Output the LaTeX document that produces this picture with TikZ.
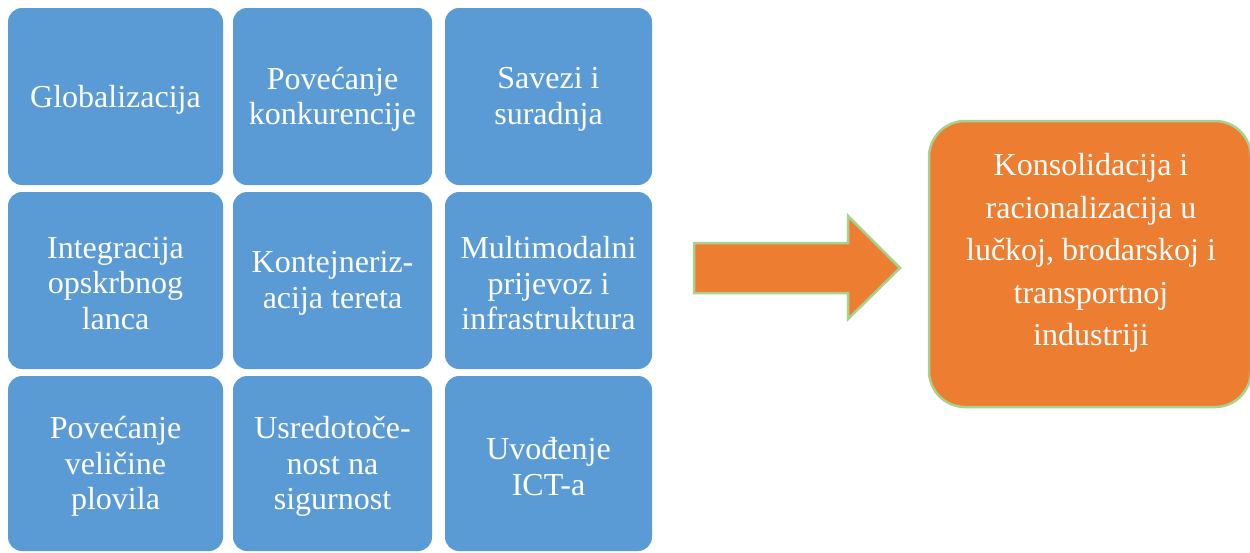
\documentclass[tikz,border=0pt]{standalone}
\usepackage{fontspec}
\setmainfont{Liberation Serif}
\definecolor{boxblue}{HTML}{5B9BD5}
\definecolor{boxorange}{HTML}{ED7D31}
\definecolor{boxgreen}{HTML}{A9D18E}
\begin{document}
\begin{tikzpicture}[x=1pt,y=-1pt,
  bluebox/.style={fill=boxblue, draw=none, rounded corners=14pt, inner sep=0pt},
  bluetext/.style={text=white, align=center, inner sep=0pt, font=\fontsize{32}{35.5}\selectfont},
  orangebox/.style={fill=boxorange, draw=boxgreen, line width=2.5pt, rounded corners=36pt,
    inner sep=0pt},
  bigtext/.style={text=white, align=center, font=\fontsize{32}{42.5}\selectfont}]
\useasboundingbox (0,0) rectangle (1250,552);
% row 1
\node[bluebox, minimum width=215pt, minimum height=177pt] (b11) at (115.5,96.5) {};
\node[bluebox, minimum width=199pt, minimum height=177pt] (b12) at (332.5,96.5) {};
\node[bluebox, minimum width=207pt, minimum height=177pt] (b13) at (548.5,96.5) {};
% row 2
\node[bluebox, minimum width=215pt, minimum height=177pt] (b21) at (115.5,280.5) {};
\node[bluebox, minimum width=199pt, minimum height=177pt] (b22) at (332.5,280.5) {};
\node[bluebox, minimum width=207pt, minimum height=177pt] (b23) at (548.5,280.5) {};
% row 3
\node[bluebox, minimum width=215pt, minimum height=175pt] (b31) at (115.5,463.5) {};
\node[bluebox, minimum width=199pt, minimum height=175pt] (b32) at (332.5,463.5) {};
\node[bluebox, minimum width=207pt, minimum height=175pt] (b33) at (548.5,463.5) {};
% texts
\node[bluetext] (t11) at ([yshift=-3pt]b11.center) {Globalizacija};
\node[bluetext] (t12) at ([yshift=-3pt]b12.center) {Povećanje\\konkurencije};
\node[bluetext] (t13) at ([yshift=-3pt]b13.center) {Savezi i\\suradnja};
\node[bluetext] (t21) at ([yshift=-3pt]b21.center) {Integracija\\opskrbnog\\lanca};
\node[bluetext] (t22) at ([yshift=-3pt]b22.center) {Kontejneriz-\\acija tereta};
\node[bluetext] (t23) at ([yshift=-3pt]b23.center) {Multimodalni\\prijevoz i\\infrastruktura};
\node[bluetext] (t31) at ([yshift=-3pt]b31.center) {Povećanje\\veličine\\plovila};
\node[bluetext] (t32) at ([yshift=-3pt]b32.center) {Usredotoče-\\nost na\\sigurnost};
\node[bluetext] (t33) at ([yshift=-3pt]b33.center) {Uvođenje\\ICT-a};
% block arrow
\draw[fill=boxorange, draw=boxgreen, line width=2.5pt, line join=miter]
  (694,243) -- (848,243) -- (848,216) -- (900,268) -- (848,319) -- (848,293) -- (694,293) -- cycle;
% result box
\node[orangebox, minimum width=322pt, minimum height=286pt] (res) at (1090,264) {};
\node[bigtext] (restext) at (1091,253) {Konsolidacija i\\racionalizacija u\\lučkoj, brodarskoj i\\transportnoj\\industriji};
\end{tikzpicture}
\end{document}
